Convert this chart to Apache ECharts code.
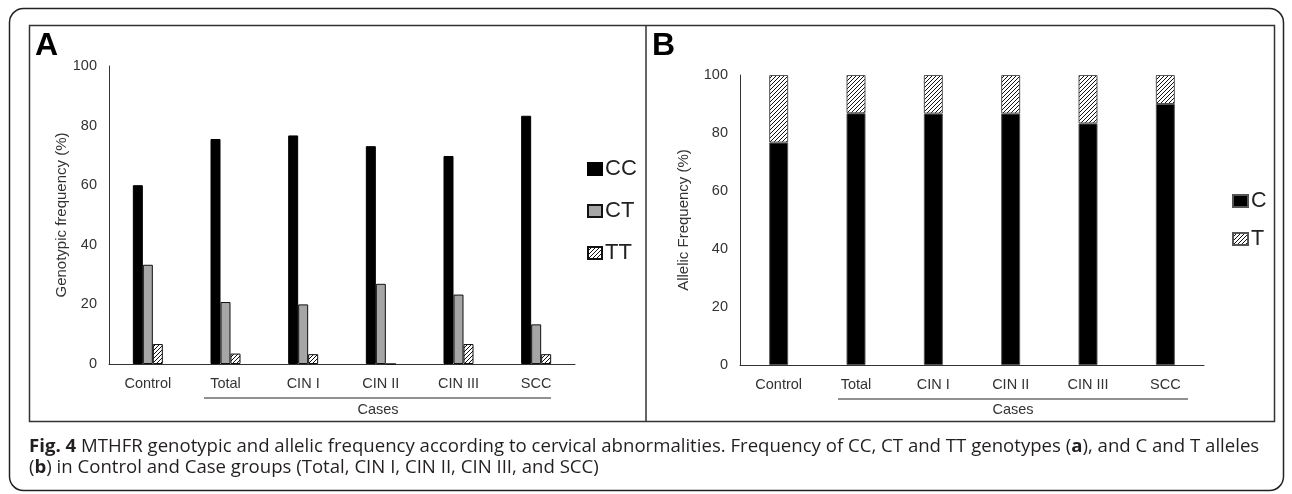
<!DOCTYPE html>
<html>
<head>
<meta charset="utf-8">
<script src="https://cdn.jsdelivr.net/npm/echarts@6/dist/echarts.min.js"></script>
<style>
html,body{margin:0;padding:0;background:#fff;}
#chart{width:1292px;height:494px;}
</style>
</head>
<body>
<div id="chart"></div>
<script>
var categories = ['Control', 'Total', 'CIN I', 'CIN II', 'CIN III', 'SCC'];
var genotypeNames = ['CC', 'CT', 'TT'];
var ccValues = [60.0, 75.5, 76.7, 73.1, 69.8, 83.3];
var ctValues = [33.3, 20.8, 20.0, 26.9, 23.3, 13.3];
var ttValues = [6.7, 3.5, 3.3, 0, 6.7, 3.3];
var alleleNames = ['C', 'T'];
var cValues = [76.7, 86.8, 86.7, 86.7, 83.3, 90.0];
var tValues = [23.3, 13.2, 13.3, 13.3, 16.7, 10.0];
var yMin = 0, yMax = 100, yStep = 20;

function hatch() {
  var c = document.createElement('canvas');
  c.width = 4; c.height = 4;
  var g = c.getContext('2d');
  g.fillStyle = '#fff'; g.fillRect(0, 0, 4, 4);
  g.strokeStyle = '#111'; g.lineWidth = 1;
  g.beginPath();
  g.moveTo(0, 4); g.lineTo(4, 0);
  g.moveTo(-1, 1); g.lineTo(1, -1);
  g.moveTo(3, 5); g.lineTo(5, 3);
  g.stroke();
  return c;
}
var hatchFill = { image: hatch(), repeat: 'repeat' };

var axisFont = { fontFamily: 'Liberation Sans, Arial', fontSize: 14.5, color: '#333' };

function yAxis(idx, name, gap) {
  return {
    type: 'value', gridIndex: idx, min: yMin, max: yMax, interval: yStep,
    name: name, nameLocation: 'middle', nameGap: gap, nameRotate: 90,
    nameTextStyle: { fontFamily: 'Liberation Sans, Arial', fontSize: 15, color: '#333' },
    axisLine: { show: true, lineStyle: { color: '#333', width: 1 } },
    axisTick: { show: false }, splitLine: { show: false },
    axisLabel: Object.assign({ margin: 12 }, axisFont)
  };
}
function xAxis(idx) {
  return {
    type: 'category', gridIndex: idx, data: categories,
    axisLine: { lineStyle: { color: '#333', width: 1 } },
    axisTick: { show: false },
    axisLabel: Object.assign({ margin: 12 }, axisFont)
  };
}

var chart = echarts.init(document.getElementById('chart'), null, { renderer: 'canvas' });
chart.setOption({
  animation: false,
  grid: [
    { left: 109, right: 717, top: 66, bottom: 130 },
    { left: 740, right: 88, top: 75, bottom: 129 }
  ],
  xAxis: [xAxis(0), xAxis(1)],
  yAxis: [yAxis(0, 'Genotypic frequency (%)', 40), yAxis(1, 'Allelic Frequency (%)', 49)],
  legend: [
    {
      data: genotypeNames, orient: 'vertical', left: 582, top: 153,
      itemWidth: 14, itemHeight: 12, itemGap: 20, icon: 'rect',
      textStyle: { fontFamily: 'Liberation Sans, Arial', fontSize: 22, color: '#222', padding: [0, 0, 0, -2] }
    },
    {
      data: alleleNames, orient: 'vertical', left: 1227, top: 185,
      itemWidth: 15, itemHeight: 12, itemGap: 16, icon: 'rect',
      textStyle: { fontFamily: 'Liberation Sans, Arial', fontSize: 21.5, color: '#222', padding: [0, 0, 0, -2] }
    }
  ],
  series: [
    { name: 'CC', type: 'bar', xAxisIndex: 0, yAxisIndex: 0, data: ccValues, barWidth: 10, barGap: '0%',
      itemStyle: { color: '#000', borderColor: '#000', borderWidth: 1 } },
    { name: 'CT', type: 'bar', xAxisIndex: 0, yAxisIndex: 0, data: ctValues, barWidth: 10, barGap: '0%',
      itemStyle: { color: '#a6a6a6', borderColor: '#111', borderWidth: 1 } },
    { name: 'TT', type: 'bar', xAxisIndex: 0, yAxisIndex: 0, data: ttValues, barWidth: 10, barGap: '0%',
      itemStyle: { color: hatchFill, borderColor: '#111', borderWidth: 1 } },
    { name: 'C', type: 'bar', xAxisIndex: 1, yAxisIndex: 1, data: cValues, barWidth: 19, stack: 'allele',
      itemStyle: { color: '#000', borderColor: '#555', borderWidth: 1 } },
    { name: 'T', type: 'bar', xAxisIndex: 1, yAxisIndex: 1, data: tValues, barWidth: 19, stack: 'allele',
      itemStyle: { color: hatchFill, borderColor: '#555', borderWidth: 1 } }
  ],
  graphic: [
    { type: 'rect', shape: { x: 9.5, y: 8.5, width: 1274, height: 482, r: 14 },
      style: { fill: 'none', stroke: '#222', lineWidth: 1.5 }, silent: true },
    { type: 'rect', shape: { x: 29.5, y: 25.5, width: 1245, height: 396 },
      style: { fill: 'none', stroke: '#333', lineWidth: 1.5 }, silent: true },
    { type: 'line', shape: { x1: 646, y1: 25, x2: 646, y2: 422 },
      style: { stroke: '#333', lineWidth: 1.5 }, silent: true },
    { type: 'text', left: 35, top: 30,
      style: { text: 'A', fontFamily: 'Liberation Sans, Arial', fontWeight: 'bold', fontSize: 32, fill: '#000' } },
    { type: 'text', left: 652, top: 30,
      style: { text: 'B', fontFamily: 'Liberation Sans, Arial', fontWeight: 'bold', fontSize: 32, fill: '#000' } },
    { type: 'line', shape: { x1: 204, y1: 398, x2: 551, y2: 398 },
      style: { stroke: '#222', lineWidth: 1 }, silent: true },
    { type: 'line', shape: { x1: 838, y1: 399, x2: 1188, y2: 399 },
      style: { stroke: '#222', lineWidth: 1 }, silent: true },
    { type: 'text', x: 378, y: 410,
      style: { text: 'Cases', align: 'center', verticalAlign: 'middle', fontFamily: 'Liberation Sans, Arial', fontSize: 14.5, fill: '#333' } },
    { type: 'text', x: 1013, y: 410,
      style: { text: 'Cases', align: 'center', verticalAlign: 'middle', fontFamily: 'Liberation Sans, Arial', fontSize: 14.5, fill: '#333' } },
    { type: 'text', x: 29, y: 447,
      style: { text: '{b|Fig. 4} MTHFR genotypic and allelic frequency according to cervical abnormalities. Frequency of CC, CT and TT genotypes ({b|a}), and C and T alleles',
        verticalAlign: 'middle', fontFamily: 'Open Sans', fontSize: 18.6, fill: '#231f20',
        rich: { b: { fontWeight: 'bold', fontFamily: 'Open Sans', fontSize: 18.6, fill: '#231f20' } } } },
    { type: 'text', x: 29, y: 468,
      style: { text: '({b|b}) in Control and Case groups (Total, CIN I, CIN II, CIN III, and SCC)',
        verticalAlign: 'middle', fontFamily: 'Open Sans', fontSize: 18.6, fill: '#231f20',
        rich: { b: { fontWeight: 'bold', fontFamily: 'Open Sans', fontSize: 18.6, fill: '#231f20' } } } }
  ]
});
</script>
</body>
</html>
